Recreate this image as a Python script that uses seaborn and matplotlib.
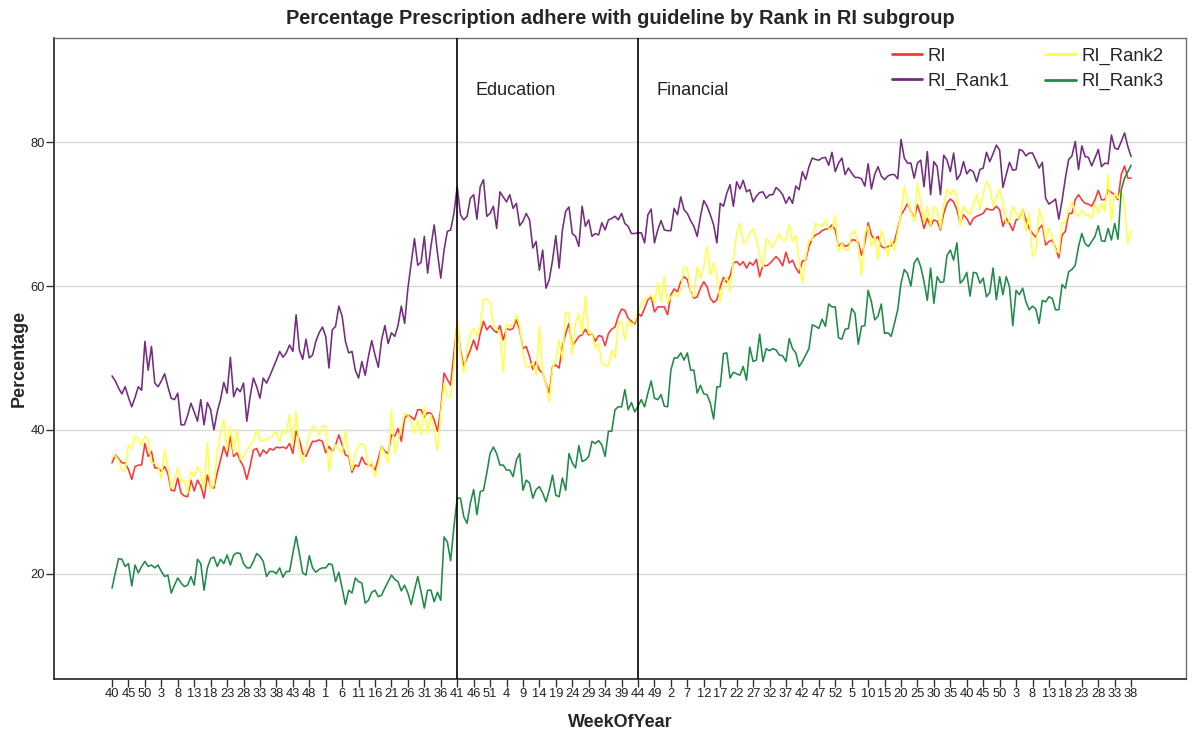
import numpy as np
import pandas as pd
import matplotlib
matplotlib.use("Agg")
import matplotlib.pyplot as plt
import seaborn as sns

sns.set_style("ticks")
plt.rcParams["font.family"] = ["Liberation Sans", "DejaVu Sans"]

# ---- data ----
# week of year for each weekly point: wk40 of the first year, five full years, then wk1-38
weeks = list(range(40, 53)) + list(range(1, 53)) * 5 + list(range(1, 39))

ri = [
    35.4, 36.5, 36.0, 35.4, 35.4, 34.5, 33.1, 34.9, 35.1, 35.1,
    38.1, 36.3, 37.0, 34.7, 34.7, 34.2, 34.9, 33.9, 31.6, 31.5,
    33.3, 31.2, 30.8, 30.7, 33.0, 31.5, 33.0, 32.2, 30.5, 33.7,
    32.1, 31.9, 34.0, 35.8, 37.7, 36.3, 39.1, 36.3, 36.8, 35.7,
    34.9, 33.1, 34.9, 37.2, 37.4, 36.3, 37.2, 36.7, 37.4, 37.2,
    37.6, 37.5, 37.6, 37.4, 38.1, 36.7, 39.8, 38.6, 36.7, 36.3,
    37.4, 38.4, 38.4, 38.6, 38.4, 36.8, 37.7, 37.0, 37.9, 39.3,
    37.9, 36.5, 36.3, 34.1, 35.1, 34.9, 36.2, 35.3, 35.1, 35.1,
    34.4, 36.0, 37.7, 37.0, 36.7, 39.3, 39.1, 40.2, 38.4, 41.6,
    42.1, 41.8, 41.4, 42.8, 42.8, 41.8, 42.4, 42.3, 41.4, 39.8,
    42.8, 47.9, 47.0, 46.2, 50.7, 54.7, 51.1, 48.8, 50.0, 51.1,
    52.5, 51.1, 53.4, 55.1, 53.9, 54.5, 53.9, 53.5, 54.5, 52.5,
    54.1, 53.9, 54.1, 55.3, 53.9, 51.3, 51.6, 50.2, 48.4, 49.5,
    48.3, 47.9, 46.5, 45.1, 48.8, 49.0, 48.6, 51.6, 53.4, 54.8,
    51.6, 52.3, 53.0, 53.2, 54.0, 53.2, 53.4, 52.3, 53.1, 53.0,
    51.7, 53.4, 54.0, 54.3, 55.8, 56.8, 56.6, 55.5, 55.1, 54.7,
    56.2, 55.8, 56.9, 58.1, 58.5, 56.4, 57.1, 57.1, 57.1, 56.0,
    58.8, 59.6, 59.2, 60.6, 61.3, 60.9, 59.2, 58.3, 58.5, 59.7,
    60.6, 59.9, 58.3, 57.7, 58.1, 59.9, 61.2, 60.5, 61.4, 63.2,
    63.4, 62.9, 63.4, 62.5, 63.3, 62.9, 63.7, 61.3, 62.9, 62.8,
    63.1, 63.6, 64.1, 63.6, 62.8, 64.7, 63.2, 63.6, 62.5, 61.8,
    63.5, 63.6, 65.5, 66.6, 67.1, 67.3, 67.7, 67.9, 68.0, 68.5,
    67.8, 65.5, 66.0, 65.5, 65.7, 66.4, 66.4, 66.0, 64.3, 66.0,
    68.8, 67.1, 66.4, 66.9, 65.5, 65.3, 65.5, 65.6, 66.2, 68.0,
    69.9, 70.6, 71.5, 70.4, 69.4, 71.3, 69.9, 68.0, 69.4, 68.3,
    69.2, 69.0, 67.8, 70.1, 71.5, 72.1, 71.7, 70.6, 68.7, 69.9,
    69.4, 68.5, 69.4, 69.7, 69.9, 70.1, 70.8, 70.6, 70.6, 71.1,
    70.6, 68.3, 69.4, 68.7, 67.7, 69.2, 69.4, 70.6, 69.2, 68.0,
    67.3, 66.8, 68.0, 68.5, 65.7, 66.2, 66.4, 65.3, 63.9, 67.1,
    67.6, 70.1, 70.1, 72.0, 72.7, 72.0, 71.5, 71.4, 71.1, 72.0,
    73.3, 72.0, 72.0, 73.4, 73.0, 72.7, 72.0, 75.5, 76.7, 75.0, 75.0,
]

ri_rank1 = [
    47.5, 46.8, 45.8, 45.0, 46.0, 44.5, 43.2, 44.5, 46.0, 45.5,
    52.3, 48.3, 51.6, 46.5, 46.0, 46.8, 47.8, 46.0, 44.4, 44.2,
    45.1, 40.7, 40.7, 42.0, 43.7, 42.5, 41.2, 44.2, 40.7, 43.8,
    42.8, 40.0, 42.5, 44.2, 46.6, 45.1, 50.1, 44.6, 45.8, 45.3,
    46.5, 41.2, 44.6, 47.2, 46.0, 44.4, 47.2, 46.5, 47.5, 48.6,
    49.7, 50.9, 50.1, 50.7, 51.8, 50.9, 56.0, 51.1, 49.8, 52.6,
    50.0, 50.4, 52.3, 53.5, 54.3, 53.0, 48.6, 53.9, 54.4, 57.2,
    55.8, 52.3, 50.7, 50.9, 48.3, 47.2, 49.5, 47.6, 50.2, 52.4,
    50.4, 48.7, 52.5, 54.5, 52.0, 53.5, 53.0, 54.5, 57.2, 54.8,
    59.7, 63.2, 66.6, 62.9, 63.3, 66.9, 61.8, 65.5, 68.5, 64.6,
    61.1, 65.0, 67.6, 67.8, 70.1, 73.8, 69.9, 69.2, 69.7, 72.2,
    72.7, 69.3, 73.8, 74.8, 69.7, 70.1, 71.1, 68.0, 73.1, 72.4,
    71.7, 72.7, 70.8, 71.5, 68.4, 69.0, 70.1, 69.2, 65.3, 66.2,
    62.2, 65.0, 59.7, 60.9, 63.6, 67.0, 62.5, 67.8, 70.4, 71.0,
    67.3, 66.9, 65.5, 71.1, 68.3, 69.2, 66.9, 67.3, 67.1, 68.8,
    67.8, 69.2, 69.4, 69.7, 69.2, 70.1, 68.7, 68.3, 67.3, 67.3,
    67.4, 67.4, 66.0, 69.9, 70.7, 66.0, 67.8, 69.1, 67.8, 67.7,
    67.7, 70.8, 69.9, 72.4, 70.6, 70.1, 69.1, 68.3, 66.9, 69.7,
    71.9, 71.1, 69.9, 68.5, 66.0, 71.5, 71.1, 72.9, 74.1, 71.1,
    74.5, 73.5, 74.7, 73.1, 73.4, 71.7, 72.5, 73.0, 73.1, 72.2,
    72.7, 72.7, 73.7, 73.3, 72.7, 71.5, 72.4, 71.5, 73.9, 73.4,
    75.9, 74.8, 76.6, 77.8, 77.6, 77.5, 77.8, 77.9, 76.8, 78.6,
    75.9, 77.1, 77.8, 75.5, 76.4, 75.7, 75.1, 75.1, 74.9, 73.9,
    77.0, 73.5, 75.5, 76.6, 75.3, 74.8, 75.3, 75.5, 75.5, 74.9,
    80.4, 77.8, 77.1, 77.1, 75.0, 77.1, 77.5, 73.8, 78.7, 72.7,
    77.3, 76.6, 72.7, 78.2, 77.5, 75.9, 78.5, 74.8, 75.5, 77.3,
    75.6, 76.2, 75.9, 74.5, 76.2, 76.4, 78.6, 77.3, 78.4, 79.6,
    78.9, 73.7, 75.5, 77.2, 76.1, 76.2, 79.0, 78.8, 78.1, 78.5,
    78.5, 77.5, 76.4, 77.2, 72.2, 71.4, 71.7, 72.1, 69.3, 71.9,
    75.0, 77.6, 78.1, 80.1, 76.2, 79.5, 78.0, 77.9, 76.7, 77.8,
    79.0, 76.6, 77.1, 77.0, 81.0, 79.2, 79.0, 80.1, 81.3, 79.4, 78.0,
]

ri_rank2 = [
    36.3, 36.4, 35.8, 34.4, 34.2, 37.9, 37.4, 39.1, 38.8, 37.9,
    39.1, 38.6, 35.4, 35.4, 34.9, 33.3, 37.2, 34.9, 31.9, 33.1,
    34.7, 32.8, 33.0, 31.2, 34.2, 33.5, 34.9, 34.0, 31.7, 38.2,
    31.7, 32.3, 36.7, 39.7, 41.4, 37.2, 40.5, 36.7, 40.0, 35.9,
    36.3, 37.2, 37.9, 38.4, 40.0, 38.6, 38.4, 38.8, 38.8, 39.3,
    39.8, 38.4, 40.0, 39.5, 42.1, 37.9, 42.5, 37.0, 35.4, 37.4,
    39.3, 40.5, 40.2, 39.3, 40.5, 40.6, 34.2, 37.2, 37.9, 37.2,
    36.7, 40.0, 36.7, 34.4, 36.7, 37.7, 38.1, 37.7, 34.9, 35.6,
    33.5, 34.9, 37.7, 36.7, 35.4, 42.8, 36.7, 38.6, 40.2, 42.3,
    42.1, 41.2, 39.5, 41.4, 39.3, 43.2, 39.5, 42.1, 39.8, 37.2,
    42.3, 46.5, 44.6, 44.6, 48.8, 55.5, 50.7, 48.0, 51.1, 53.4,
    54.1, 53.0, 54.5, 58.1, 58.2, 57.8, 54.6, 54.1, 53.4, 48.1,
    54.7, 54.4, 54.6, 56.0, 54.4, 50.7, 48.6, 48.8, 49.3, 47.6,
    54.4, 47.9, 46.5, 43.9, 48.6, 49.5, 52.5, 49.7, 56.4, 56.2,
    50.4, 54.8, 56.2, 53.4, 58.6, 53.4, 53.4, 51.3, 52.0, 49.2,
    49.0, 48.9, 51.1, 50.0, 54.8, 55.1, 52.5, 55.3, 54.4, 55.1,
    56.2, 57.5, 58.1, 58.3, 58.8, 57.6, 60.5, 57.8, 61.3, 57.6,
    58.5, 59.0, 58.5, 59.5, 62.7, 62.5, 59.0, 58.5, 62.7, 61.1,
    62.7, 65.5, 61.5, 63.3, 61.5, 57.8, 60.6, 61.3, 59.2, 63.5,
    67.3, 68.7, 66.0, 66.2, 67.3, 68.0, 66.6, 64.3, 62.7, 66.6,
    66.0, 65.3, 66.4, 67.3, 66.4, 66.4, 68.5, 66.2, 67.1, 63.6,
    60.4, 63.9, 66.4, 66.4, 68.7, 68.5, 68.3, 69.1, 68.0, 67.8,
    69.8, 64.8, 66.0, 65.0, 65.0, 67.3, 67.7, 65.5, 61.5, 67.3,
    68.3, 65.5, 66.9, 63.7, 67.8, 66.4, 64.1, 66.4, 65.0, 67.6,
    70.1, 73.9, 71.7, 70.4, 69.0, 74.3, 71.7, 68.7, 71.1, 68.3,
    71.1, 70.6, 68.0, 71.3, 73.5, 72.7, 73.4, 72.4, 68.4, 71.1,
    70.4, 69.9, 71.3, 72.7, 70.6, 72.9, 74.5, 73.8, 71.1, 72.4,
    73.5, 71.5, 68.7, 69.0, 71.1, 70.1, 69.2, 70.8, 67.6, 70.1,
    64.1, 64.6, 70.7, 69.2, 66.4, 68.0, 66.9, 65.0, 64.6, 68.8,
    68.8, 70.6, 71.7, 70.1, 69.7, 70.6, 69.9, 69.9, 69.4, 71.5,
    70.1, 71.5, 70.4, 75.5, 69.1, 72.9, 72.2, 73.2, 71.1, 65.9, 67.8,
]

ri_rank3 = [
    18.0, 20.1, 22.1, 22.0, 21.0, 21.4, 18.3, 21.2, 20.1, 21.0,
    21.7, 21.0, 21.2, 20.8, 21.2, 20.3, 19.6, 19.8, 17.3, 18.4,
    19.4, 18.7, 18.2, 18.4, 19.6, 18.4, 22.0, 21.4, 17.7, 20.8,
    22.1, 22.3, 21.0, 22.0, 21.4, 22.6, 21.2, 22.6, 22.9, 22.8,
    21.4, 20.8, 20.8, 21.7, 22.8, 22.4, 21.7, 19.6, 20.3, 20.3,
    20.0, 20.8, 19.5, 20.3, 20.3, 22.8, 25.2, 22.8, 20.1, 19.8,
    22.5, 20.8, 20.2, 20.6, 20.8, 20.8, 21.4, 21.2, 18.9, 20.2,
    18.0, 15.7, 17.7, 17.3, 19.4, 18.9, 18.7, 15.9, 16.3, 17.4,
    17.7, 16.8, 17.0, 18.0, 18.9, 19.8, 19.2, 18.9, 17.6, 18.4,
    17.3, 15.7, 17.7, 19.6, 17.5, 15.2, 17.7, 17.7, 16.1, 17.4,
    16.3, 25.1, 24.4, 21.8, 26.5, 30.5, 30.5, 27.9, 27.0, 29.8,
    31.7, 28.2, 31.4, 31.6, 34.0, 36.7, 37.6, 36.7, 35.1, 35.1,
    34.4, 34.4, 33.5, 35.8, 36.7, 31.6, 33.0, 32.6, 30.5, 31.7,
    32.1, 31.2, 30.0, 31.6, 33.7, 30.9, 30.7, 33.3, 31.6, 36.7,
    35.4, 34.7, 37.8, 35.6, 35.8, 36.3, 38.4, 38.1, 38.5, 37.9,
    36.3, 39.8, 39.8, 42.8, 43.2, 43.2, 45.6, 42.8, 43.8, 42.5,
    43.3, 44.2, 43.2, 45.1, 46.8, 44.4, 44.2, 44.9, 43.3, 43.2,
    48.3, 50.0, 50.0, 50.7, 49.7, 50.7, 48.3, 48.3, 45.1, 46.2,
    45.0, 44.9, 43.7, 41.5, 46.0, 46.0, 50.6, 50.7, 47.2, 48.0,
    47.8, 47.6, 48.8, 46.9, 51.5, 49.5, 49.7, 53.3, 49.5, 51.3,
    51.0, 51.3, 51.1, 50.4, 50.3, 49.5, 52.7, 51.3, 50.7, 48.8,
    49.5, 50.4, 51.3, 54.6, 54.4, 54.1, 55.4, 54.4, 57.5, 57.1,
    57.1, 52.8, 52.6, 54.0, 54.1, 56.9, 56.2, 51.9, 54.4, 54.5,
    59.4, 57.8, 55.3, 55.8, 57.5, 53.4, 53.5, 53.0, 54.8, 56.7,
    60.4, 62.3, 61.7, 60.0, 63.2, 63.9, 62.7, 60.6, 58.0, 62.5,
    57.6, 61.3, 60.5, 60.6, 64.3, 65.0, 63.6, 66.0, 60.4, 60.9,
    61.9, 58.6, 61.9, 61.8, 60.4, 61.1, 58.5, 59.1, 62.5, 58.1,
    61.3, 58.8, 61.3, 59.9, 54.5, 59.4, 58.8, 59.7, 57.8, 56.7,
    57.2, 56.8, 54.8, 58.0, 57.8, 58.5, 58.3, 56.7, 56.7, 60.2,
    59.7, 62.0, 62.3, 62.9, 65.5, 67.3, 65.9, 65.5, 66.2, 66.9,
    68.4, 66.3, 66.2, 68.0, 66.4, 68.7, 66.5, 73.4, 75.0, 75.9, 76.8,
]

series_names = ["RI", "RI_Rank1", "RI_Rank2", "RI_Rank3"]
series_colors = ["#ff3636", "#742c7e", "#ffff4a", "#1f8a47"]

# vertical reference lines: point index of the event week and its label
event_idx = [105, 160]
event_names = ["Education", "Financial"]

# ---- long table for seaborn ----
frames = []
for name, vals in zip(series_names, [ri, ri_rank1, ri_rank2, ri_rank3]):
    frames.append(pd.DataFrame({"idx": np.arange(len(vals)), "Percentage": vals, "series": name}))
df = pd.concat(frames, ignore_index=True)

fig = plt.figure(figsize=(11.95, 7.33), dpi=100)
ax = fig.add_axes([0.0456, 0.0737, 0.9469, 0.8745])

sns.lineplot(data=df, x="idx", y="Percentage", hue="series", hue_order=series_names,
             palette=dict(zip(series_names, series_colors)), linewidth=1.15, ax=ax)

for xi, name in zip(event_idx, event_names):
    ax.axvline(xi, color="black", lw=1.2, zorder=5)
    ax.text(xi + 5.5, 87.2, name, fontsize=13, va="center", ha="left", color="#222222")

ax.set_xlim(-17.5, 326.7)
ax.set_ylim(5.35, 94.5)

tick_pos = np.arange(0, len(weeks), 5)
ax.set_xticks(tick_pos)
ax.set_xticklabels([str(weeks[i]) for i in tick_pos])
ax.set_yticks([20, 40, 60, 80])
ax.tick_params(axis="x", length=5.8, width=1, color="#333333", labelsize=9.3, pad=0.5, labelcolor="#222222")
ax.tick_params(axis="y", length=5.8, width=1, color="#333333", labelsize=9.3, pad=1.2, labelcolor="#222222")

ax.yaxis.grid(True, color="#d9d9d9", lw=1.0)
ax.set_axisbelow(True)

for side in ["left", "bottom"]:
    ax.spines[side].set_color("#333333")
    ax.spines[side].set_linewidth(1.3)
for side in ["top", "right"]:
    ax.spines[side].set_color("#707070")
    ax.spines[side].set_linewidth(1.0)

ax.set_xlabel("WeekOfYear", fontsize=13, fontweight="bold")
ax.xaxis.set_label_coords(0.5, -0.054)
ax.set_ylabel("Percentage", fontsize=13, fontweight="bold")
ax.yaxis.set_label_coords(-0.024, 0.5)

fig.text(0.5188, 0.9754, "Percentage Prescription adhere with guideline by Rank in RI subgroup",
         fontsize=14.4, fontweight="bold", ha="center", va="center")

sns.move_legend(ax, "upper right", bbox_to_anchor=(0.98, 0.985), ncol=2, frameon=False,
                title=None, fontsize=13.3, handlelength=1.65, handletextpad=0.3,
                columnspacing=1.9, labelspacing=0.45, borderaxespad=0, borderpad=0)
for h in ax.get_legend().get_lines():
    h.set_linewidth(2)

fig.savefig("out.png", dpi=100)
